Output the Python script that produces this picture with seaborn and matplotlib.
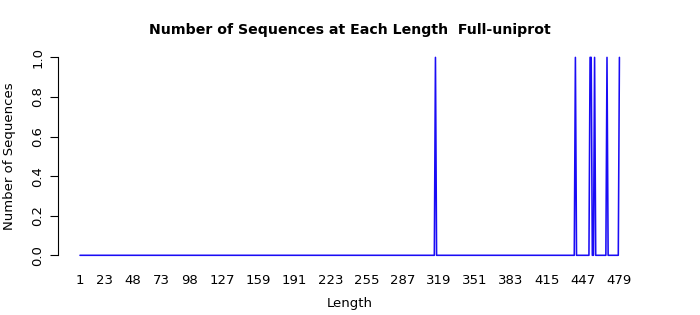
import numpy as np
import pandas as pd
import matplotlib
matplotlib.use("Agg")
import matplotlib.pyplot as plt
import seaborn as sns

# Data
max_length = 479
spike_lengths = [316, 440, 453, 454, 457, 468, 479]
spike_counts = [1, 1, 1, 1, 1, 1, 1]
x_tick_labels = [1, 23, 48, 73, 98, 127, 159, 191, 223, 255, 287, 319, 351, 383, 415, 447, 479]
y_ticks = [0.0, 0.2, 0.4, 0.6, 0.8, 1.0]

lengths = np.arange(1, max_length + 1)
counts = np.zeros(max_length)
for L, c in zip(spike_lengths, spike_counts):
    counts[L - 1] = c
df = pd.DataFrame({"Length": lengths, "Count": counts})

sns.set_theme(style="white")
plt.rcParams['font.family'] = ['DejaVu Sans']
plt.rcParams['text.color'] = 'black'
plt.rcParams['axes.labelcolor'] = 'black'
plt.rcParams['xtick.color'] = 'black'
plt.rcParams['ytick.color'] = 'black'

fig = plt.figure(figsize=(7, 3.15), dpi=100)
ax = fig.add_axes([0.0834, 0.1644, 0.8323, 0.6786])
sns.lineplot(data=df, x="Length", y="Count", ax=ax, color="#1a0cf5", linewidth=1.15)

span = max_length - 1
ax.set_xlim(1 - 0.04 * span, max_length + 0.04 * span)
ax.set_ylim(-0.04, 1.04)

for s in ["top", "right", "bottom"]:
    ax.spines[s].set_visible(False)
ax.spines["left"].set_bounds(0, 1)
ax.spines["left"].set_color("black")
ax.spines["left"].set_linewidth(0.8)

ax.set_yticks(y_ticks)
ax.set_yticklabels([f"{v:.1f}" for v in y_ticks], rotation=90, va="center", fontsize=9.5)
ax.tick_params(axis="y", direction="out", length=6, width=0.8, color="black", left=True, pad=4)
ax.set_xticks(x_tick_labels)
ax.set_xticklabels([str(v) for v in x_tick_labels], fontsize=9.5)
ax.tick_params(axis="x", length=0, pad=8)

ax.set_xlabel("Length", fontsize=9.5, labelpad=7)
ax.set_ylabel("Number of Sequences", fontsize=9.5, labelpad=11)
ax.set_title("Number of Sequences at Each Length  Full-uniprot", fontsize=10.2, fontweight="bold", pad=11)
ax.grid(False)

fig.savefig("out.png", dpi=100)
